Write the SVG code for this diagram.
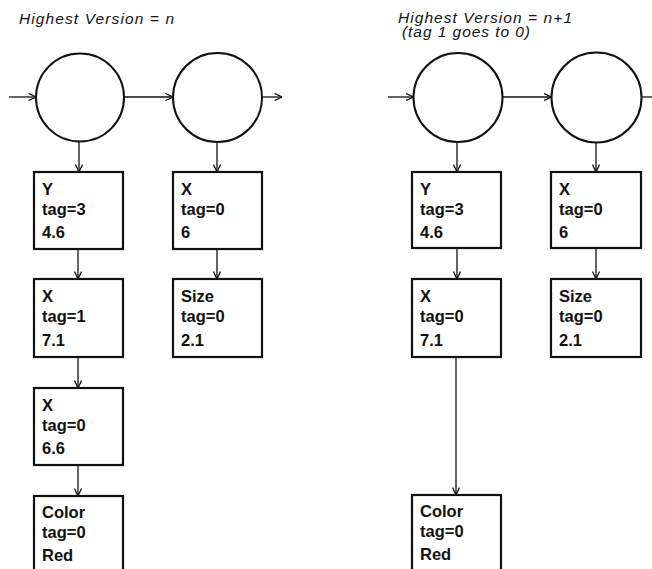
<svg xmlns="http://www.w3.org/2000/svg" width="652" height="569" viewBox="0 0 652 569">
<style>
.title{font-family:"Liberation Sans",Arial,sans-serif;font-style:italic;font-size:15.5px;fill:#111}
.lbl{font-family:"Liberation Sans",Arial,sans-serif;font-weight:bold;font-size:16.5px;fill:#111}
.circ{fill:#fff;stroke:#111;stroke-width:2}
.box{fill:#fff;stroke:#111;stroke-width:2.2}
.conn{fill:none;stroke:#111;stroke-width:1.3;marker-end:url(#arr)}
</style>
<defs>
<marker id="arr" viewBox="0 0 8 8" refX="8" refY="4" markerWidth="8" markerHeight="8" markerUnits="userSpaceOnUse" orient="auto">
<path d="M0.5,0.5 L8,4 L0.5,7.5" fill="none" stroke="#111" stroke-width="1.3"/>
</marker>
</defs>
<rect width="652" height="569" fill="#fff"/>
<g id="titles">
<text class="title" x="19" y="24" textLength="155" lengthAdjust="spacing">Highest Version = n</text>
<text class="title" x="398" y="23" textLength="174" lengthAdjust="spacing">Highest Version = n+1</text>
<text class="title" x="402" y="36.5" textLength="128" lengthAdjust="spacing">(tag 1 goes to 0)</text>
</g>
<g id="connectors">
<path class="conn" d="M9,97 H36"/>
<path class="conn" d="M124,97 H173"/>
<path class="conn" d="M262,97 H282"/>
<path class="conn" d="M79,141 V172"/>
<path class="conn" d="M217,141 V172"/>
<path class="conn" d="M78,249 V279"/>
<path class="conn" d="M217,249 V279"/>
<path class="conn" d="M78,357 V388"/>
<path class="conn" d="M78,465 V496"/>
<path class="conn" d="M388,97 H413.5"/>
<path class="conn" d="M502.5,97 H551.5"/>
<path class="conn" d="M641.5,97 H662"/>
<path class="conn" d="M457,142 V172"/>
<path class="conn" d="M596,142 V172"/>
<path class="conn" d="M457,248 V279"/>
<path class="conn" d="M596,248 V279"/>
<path class="conn" d="M456,357 V495"/>
</g>
<g id="L-c1"><circle class="circ" cx="80" cy="97.5" r="44"/></g>
<g id="L-c2"><circle class="circ" cx="217.5" cy="97.5" r="44.5"/></g>
<g id="R-c1"><circle class="circ" cx="458" cy="97.5" r="44.5"/></g>
<g id="R-c2"><circle class="circ" cx="596.5" cy="97.5" r="45"/></g>
<g id="L-b1"><rect class="box" x="34" y="172" width="89" height="77"/>
<text class="lbl" x="42" y="195">Y</text><text class="lbl" x="42" y="215">tag=3</text><text class="lbl" x="42" y="238">4.6</text></g>
<g id="L-b2"><rect class="box" x="173" y="172" width="89" height="77"/>
<text class="lbl" x="181" y="195">X</text><text class="lbl" x="181" y="215">tag=0</text><text class="lbl" x="181" y="238">6</text></g>
<g id="L-b3"><rect class="box" x="34" y="279" width="89" height="78"/>
<text class="lbl" x="42" y="302">X</text><text class="lbl" x="42" y="322">tag=1</text><text class="lbl" x="42" y="346">7.1</text></g>
<g id="L-b4"><rect class="box" x="173" y="279" width="89" height="78"/>
<text class="lbl" x="181" y="302">Size</text><text class="lbl" x="181" y="322">tag=0</text><text class="lbl" x="181" y="346">2.1</text></g>
<g id="L-b5"><rect class="box" x="34" y="388" width="89" height="77"/>
<text class="lbl" x="42" y="411">X</text><text class="lbl" x="42" y="431">tag=0</text><text class="lbl" x="42" y="454">6.6</text></g>
<g id="L-b6"><rect class="box" x="34" y="496" width="89" height="90"/>
<text class="lbl" x="42" y="518">Color</text><text class="lbl" x="42" y="538">tag=0</text><text class="lbl" x="42" y="561">Red</text></g>
<g id="R-b1"><rect class="box" x="412" y="172" width="89" height="76"/>
<text class="lbl" x="420" y="195">Y</text><text class="lbl" x="420" y="215">tag=3</text><text class="lbl" x="420" y="238">4.6</text></g>
<g id="R-b2"><rect class="box" x="551" y="172" width="90" height="76"/>
<text class="lbl" x="559" y="195">X</text><text class="lbl" x="559" y="215">tag=0</text><text class="lbl" x="559" y="238">6</text></g>
<g id="R-b3"><rect class="box" x="412" y="279" width="89" height="78"/>
<text class="lbl" x="420" y="302">X</text><text class="lbl" x="420" y="322">tag=0</text><text class="lbl" x="420" y="346">7.1</text></g>
<g id="R-b4"><rect class="box" x="551" y="279" width="90" height="78"/>
<text class="lbl" x="559" y="302">Size</text><text class="lbl" x="559" y="322">tag=0</text><text class="lbl" x="559" y="346">2.1</text></g>
<g id="R-b6"><rect class="box" x="412" y="495" width="89" height="90"/>
<text class="lbl" x="420" y="517">Color</text><text class="lbl" x="420" y="537">tag=0</text><text class="lbl" x="420" y="560">Red</text></g>
</svg>
